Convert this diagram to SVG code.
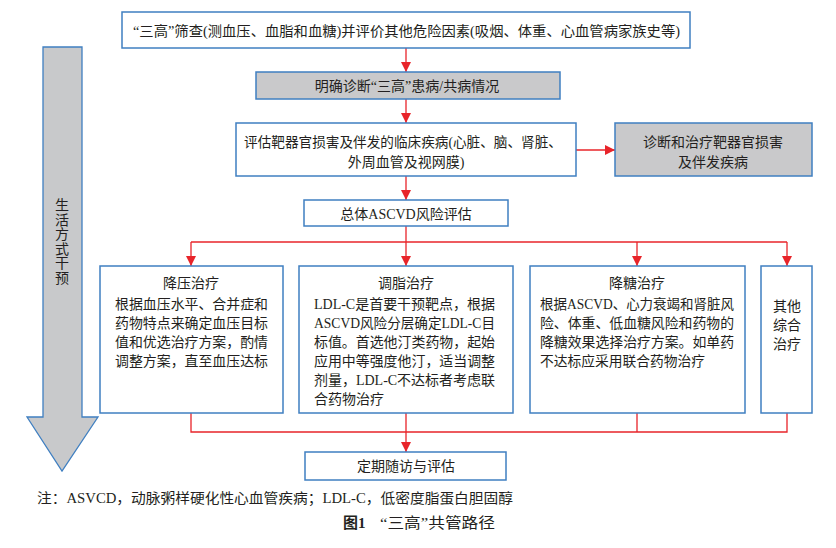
<svg xmlns="http://www.w3.org/2000/svg" width="836" height="548" viewBox="0 0 836 548">
<defs>
<marker id="ah" viewBox="0 0 10 10" refX="10" refY="5" markerWidth="11" markerHeight="10" markerUnits="userSpaceOnUse" orient="auto">
<path d="M0,0 L10,5 L0,10 z" fill="#e8242a"/>
</marker>
<style>
.box{fill:#ffffff;stroke:#3f7fc1;stroke-width:1.5}
.gbox{fill:#c9c9cb;stroke:#3f7fc1;stroke-width:1.5}
.t{font-family:"Liberation Serif","Noto Sans CJK SC",serif;font-size:14px;fill:#231f20}
.c{text-anchor:middle}
.ln{stroke:#e8242a;stroke-width:1.3;fill:none}
.ar{stroke:#e8242a;stroke-width:1.3;fill:none;marker-end:url(#ah)}
</style>
</defs>
<rect width="836" height="548" fill="#ffffff"/>

<g id="lifestyle">
<polygon points="43,47 82,47 82,417 98,417 62,471 27,417 43,417" fill="#c8c9cb" stroke="#3f7fc1" stroke-width="1.3"/>
<g class="t c">
<text x="62" y="210">生</text>
<text x="62" y="224.5">活</text>
<text x="62" y="239">方</text>
<text x="62" y="253.5">式</text>
<text x="62" y="268">干</text>
<text x="62" y="282.5">预</text>
</g>
</g>

<g id="connectors">
<line class="ar" x1="406" y1="48" x2="406" y2="72"/>
<line class="ar" x1="406" y1="99" x2="406" y2="123"/>
<line class="ar" x1="576" y1="150" x2="615" y2="150"/>
<line class="ar" x1="406" y1="176" x2="406" y2="200"/>
<line class="ln" x1="406" y1="226" x2="406" y2="242"/>
<line class="ln" x1="191" y1="242" x2="787" y2="242"/>
<line class="ar" x1="191" y1="242" x2="191" y2="266"/>
<line class="ar" x1="406" y1="242" x2="406" y2="266"/>
<line class="ar" x1="637" y1="242" x2="637" y2="266"/>
<line class="ar" x1="787" y1="242" x2="787" y2="266"/>
<path class="ln" d="M191,413 V432 H787 V413 M406,413 V432 M637,413 V432"/>
<line class="ar" x1="406" y1="432" x2="406" y2="452"/>
</g>

<g id="n1">
<rect class="box" x="122" y="12" width="568" height="36"/>
<text class="t" x="133" y="36" textLength="547" lengthAdjust="spacingAndGlyphs">“三高”筛查(测血压、血脂和血糖)并评价其他危险因素(吸烟、体重、心血管病家族史等)</text>
</g>

<g id="n2">
<rect class="gbox" x="256" y="72" width="304" height="27"/>
<text class="t c" x="407" y="91">明确诊断“三高”患病/共病情况</text>
</g>

<g id="n3">
<rect class="box" x="236" y="123" width="340" height="53"/>
<text class="t" x="244" y="147" textLength="318" lengthAdjust="spacingAndGlyphs">评估靶器官损害及伴发的临床疾病(心脏、脑、肾脏、</text>
<text class="t c" x="406" y="167">外周血管及视网膜)</text>
</g>

<g id="n4">
<rect class="gbox" x="615" y="123" width="197" height="53"/>
<text class="t c" x="713" y="147">诊断和治疗靶器官损害</text>
<text class="t c" x="713" y="167">及伴发疾病</text>
</g>

<g id="n5">
<rect class="box" x="304" y="200" width="204" height="26"/>
<text class="t c" x="406" y="219">总体ASCVD风险评估</text>
</g>

<g id="n6">
<rect class="box" x="100" y="266" width="183" height="147"/>
<text class="t c" x="191" y="288">降压治疗</text>
<text class="t" x="115" y="309" textLength="153" lengthAdjust="spacingAndGlyphs">根据血压水平、合并症和</text>
<text class="t" x="115" y="328" textLength="153" lengthAdjust="spacingAndGlyphs">药物特点来确定血压目标</text>
<text class="t" x="115" y="347" textLength="153" lengthAdjust="spacingAndGlyphs">值和优选治疗方案，酌情</text>
<text class="t" x="115" y="366" textLength="153" lengthAdjust="spacingAndGlyphs">调整方案，直至血压达标</text>
</g>

<g id="n7">
<rect class="box" x="299" y="266" width="214" height="147"/>
<text class="t c" x="406" y="288">调脂治疗</text>
<text class="t" x="314" y="309" textLength="181" lengthAdjust="spacingAndGlyphs">LDL-C是首要干预靶点，根据</text>
<text class="t" x="314" y="328" textLength="181" lengthAdjust="spacingAndGlyphs">ASCVD风险分层确定LDL-C目</text>
<text class="t" x="314" y="347" textLength="181" lengthAdjust="spacingAndGlyphs">标值。首选他汀类药物，起始</text>
<text class="t" x="314" y="366" textLength="181" lengthAdjust="spacingAndGlyphs">应用中等强度他汀，适当调整</text>
<text class="t" x="314" y="385" textLength="181" lengthAdjust="spacingAndGlyphs">剂量，LDL-C不达标者考虑联</text>
<text class="t" x="314" y="404">合药物治疗</text>
</g>

<g id="n8">
<rect class="box" x="530" y="266" width="215" height="147"/>
<text class="t c" x="637" y="288">降糖治疗</text>
<text class="t" x="540" y="309" textLength="194" lengthAdjust="spacingAndGlyphs">根据ASCVD、心力衰竭和肾脏风</text>
<text class="t" x="540" y="328" textLength="194" lengthAdjust="spacingAndGlyphs">险、体重、低血糖风险和药物的</text>
<text class="t" x="540" y="347" textLength="194" lengthAdjust="spacingAndGlyphs">降糖效果选择治疗方案。如单药</text>
<text class="t" x="540" y="366" textLength="165" lengthAdjust="spacingAndGlyphs">不达标应采用联合药物治疗</text>
</g>

<g id="n9">
<rect class="box" x="761" y="266" width="51" height="147"/>
<text class="t c" x="787" y="311">其他</text>
<text class="t c" x="787" y="330">综合</text>
<text class="t c" x="787" y="349">治疗</text>
</g>

<g id="n10">
<rect class="box" x="305" y="452" width="201" height="28"/>
<text class="t c" x="406" y="471">定期随访与评估</text>
</g>

<text class="t" x="37" y="503" textLength="476" lengthAdjust="spacingAndGlyphs">注：ASVCD，动脉粥样硬化性心血管疾病；LDL-C，低密度脂蛋白胆固醇</text>
<text class="t" x="343" y="528" style="font-size:15px"><tspan font-weight="bold">图1</tspan><tspan x="380" textLength="115" lengthAdjust="spacingAndGlyphs">“三高”共管路径</tspan></text>
</svg>
